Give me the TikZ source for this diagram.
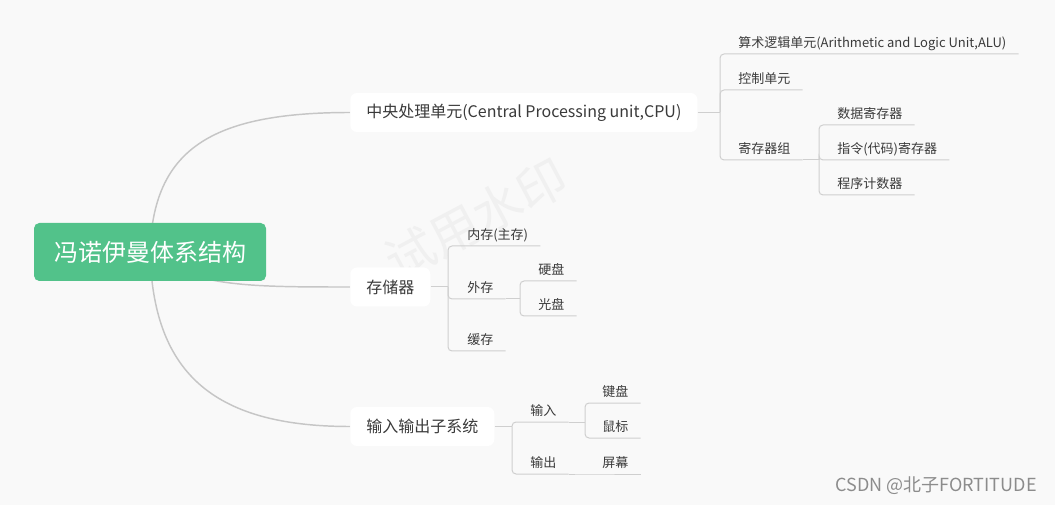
\documentclass[tikz,border=0pt]{standalone}
\usepackage{fontspec}
\newfontfamily\cjk{Noto Sans CJK SC}
\usetikzlibrary{positioning,calc,backgrounds}
\definecolor{bgcol}{HTML}{F9F9F9}
\definecolor{rootgreen}{HTML}{52C28A}
\definecolor{linkgray}{HTML}{CFCFCF}
\definecolor{curvegray}{HTML}{C6C6C6}
\definecolor{textgray}{HTML}{3A3A3A}
\tikzset{
  root/.style={fill=rootgreen,text=white,rounded corners=4pt,
    font=\cjk\fontsize{18}{20}\selectfont,minimum height=43.5pt,inner xsep=15pt},
  topic/.style={fill=white,text=textgray,rounded corners=5pt,anchor=west,
    font=\cjk\fontsize{12}{14}\selectfont,minimum height=29.25pt,inner xsep=12pt},
  leaf/.style={text=textgray,anchor=south west,font=\cjk\fontsize{9.75}{11}\selectfont,
    inner xsep=9pt,inner ysep=2.25pt,text height=7.5pt,text depth=2.25pt},
  branch/.style={draw=curvegray,line width=1.1pt},
  link/.style={draw=linkgray,line width=0.75pt,rounded corners=3pt},
}
\begin{document}
\begin{tikzpicture}[x=0.75pt,y=-0.75pt]
  \useasboundingbox (0,0) rectangle (1055,505);

  % root and main topics
  \node[root] (vn) at (150,252) {冯诺伊曼体系结构};
  \node[topic] (cpu) at (350,112.5) {中央处理单元(Central Processing unit,CPU)};
  \node[topic] (mem) at (350,287) {存储器};
  \node[topic] (io) at (350,426.5) {输入输出子系统};

  % junctions
  \coordinate (cpuj) at (720,112.5);
  \coordinate (regj) at (819,160);
  \coordinate (memj) at (448,287);
  \coordinate (extj) at (520,299);
  \coordinate (ioj) at (512,426.5);
  \coordinate (inj) at (585,422);
  \coordinate (outj) at (585,474);

  % CPU
  \node[leaf] (alu) at (726,54) {算术逻辑单元(Arithmetic and Logic Unit,ALU)};
  \node[leaf] (cu) at (726,90) {控制单元};
  \node[leaf] (regs) at (726,160) {寄存器组};
  \node[leaf] (dreg) at (825,125) {数据寄存器};
  \node[leaf] (ireg) at (825,160) {指令(代码)寄存器};
  \node[leaf] (pc) at (825,195) {程序计数器};

  % memory
  \node[leaf] (ram) at (455,246) {内存(主存)};
  \node[leaf] (ext) at (455,299) {外存};
  \node[leaf] (cache) at (455,351) {缓存};
  \node[leaf] (hdd) at (526,281) {硬盘};
  \node[leaf] (cd) at (526,316) {光盘};

  % input / output
  \node[leaf] (in) at (518,422) {输入};
  \node[leaf] (out) at (518,474) {输出};
  \node[leaf] (kb) at (590,403) {键盘};
  \node[leaf] (mouse) at (590,438) {鼠标};
  \node[leaf] (scr) at (590,474) {屏幕};

  \begin{scope}[on background layer]
    \fill[bgcol] (0,0) rectangle (1055,505);
    \draw[branch] (vn.center) .. controls (153,150) and (210,112.5) .. (cpu.west);
    \draw[branch] (vn.center) .. controls (190,287) and (250,287) .. (mem.west);
    \draw[branch] (vn.center) .. controls (153,370) and (210,426.5) .. (io.west);
    % trial watermark
    \node[rotate=28,text=black!6,font=\cjk\fontsize{37}{37}\selectfont] (wm) at (476,219) {试用水印};
  \end{scope}

  % tree connectors
  \draw[link] (cpu.east) -- (cpuj);
  \foreach \n in {alu,cu,regs} \draw[link] (cpuj) |- (\n.south east);
  \draw[link] (regs.south east) -- (regj);
  \foreach \n in {dreg,ireg,pc} \draw[link] (regj) |- (\n.south east);

  \draw[link] (mem.east) -- (memj);
  \foreach \n in {ram,ext,cache} \draw[link] (memj) |- (\n.south east);
  \draw[link] (ext.south east) -- (extj);
  \foreach \n in {hdd,cd} \draw[link] (extj) |- (\n.south east);

  \draw[link] (io.east) -- (ioj);
  \foreach \n in {in,out} \draw[link] (ioj) |- (\n.south east);
  \draw[link] (in.south east) -- (inj);
  \foreach \n in {kb,mouse} \draw[link] (inj) |- (\n.south east);
  \draw[link] (out.south east) -- (outj) -- (scr.south east);

  % site watermark
  \node[text=black!45,font=\cjk\fontsize{13.5}{15}\selectfont] (csdn) at (936,486) {CSDN @北子FORTITUDE};
\end{tikzpicture}
\end{document}
